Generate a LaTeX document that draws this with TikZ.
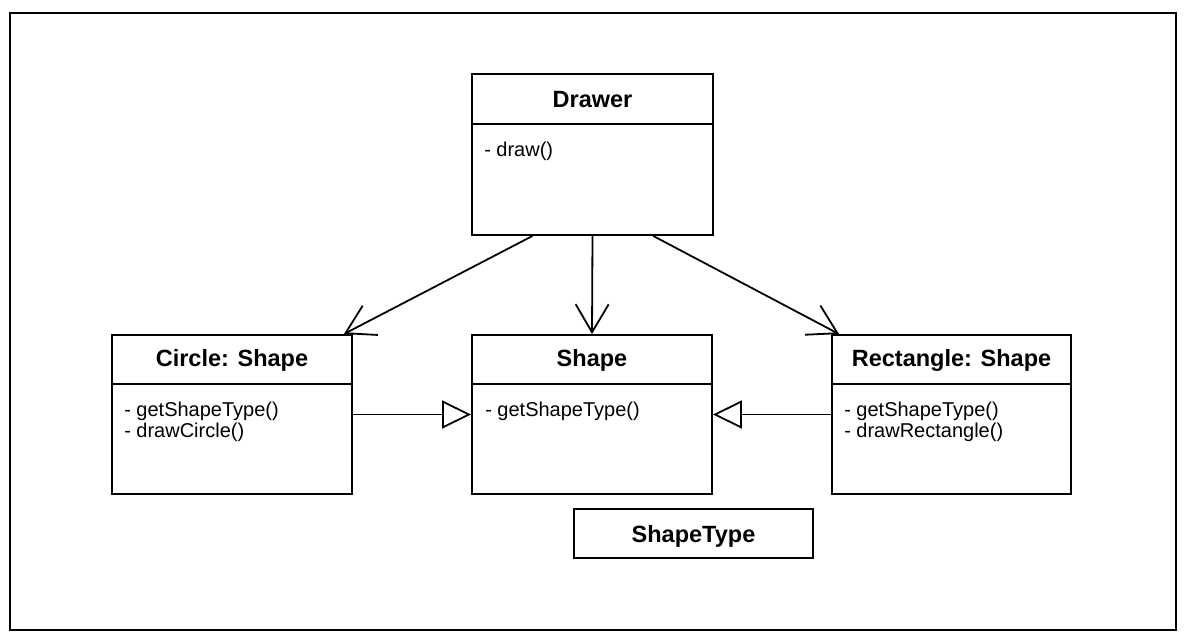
\documentclass[tikz,border=0pt]{standalone}
\usepackage{fontspec}
\setmainfont{Liberation Sans}
\usetikzlibrary{arrows.meta,calc}
\begin{document}
\begin{tikzpicture}[x=1pt,y=-1pt,
  classbox/.style={draw,line width=1.9pt,rectangle,inner sep=0pt,minimum height=159pt,minimum width=240pt},
  titletext/.style={anchor=base,inner sep=0pt,font=\bfseries\fontsize{23.5}{27}\selectfont},
  methodtext/.style={anchor=base west,inner sep=0pt,font=\fontsize{20}{22}\selectfont},
  divider/.style={line width=1.9pt},
  usesarrow/.style={line width=1.8pt,-{Straight Barb[length=28pt,width=33pt,line width=1.8pt]}},
  inherit/.style={line width=1.8pt,-{Triangle[open,length=29pt,width=28pt,line width=1.8pt]}}]
\useasboundingbox (0,0) rectangle (1186,642);
\node[draw,line width=2.4pt,rectangle,inner sep=0pt,minimum width=1166pt,minimum height=617pt] (frame) at (593,321.5) {};

% classes
\node[classbox,minimum width=241pt,minimum height=161pt] (drawer) at (592.5,154.5) {};
\node[classbox] (circle) at (232,414.5) {};
\node[classbox] (shape) at (592,414.5) {};
\node[classbox,minimum width=239pt] (rect) at (951.5,414.5) {};
\node[draw,line width=1.9pt,rectangle,inner sep=0pt,minimum width=239pt,minimum height=49pt] (shapetype) at (693.5,533.5) {};

% dividers
\draw[divider] ([yshift=-51pt]drawer.north west) -- ([yshift=-51pt]drawer.north east);
\draw[divider] ([yshift=-50pt]circle.north west) -- ([yshift=-50pt]circle.north east);
\draw[divider] ([yshift=-50pt]shape.north west) -- ([yshift=-50pt]shape.north east);
\draw[divider] ([yshift=-50pt]rect.north west) -- ([yshift=-50pt]rect.north east);

% titles
\node[titletext] (drawertitle) at ([yshift=-34pt]drawer.north) {Drawer};
\node[titletext] (circletitle) at ([yshift=-32.5pt]circle.north) {Circle: Shape};
\node[titletext] (shapetitle) at ([yshift=-32.5pt]shape.north) {Shape};
\node[titletext] (recttitle) at ([yshift=-32.5pt]rect.north) {Rectangle: Shape};
\node[titletext] (shapetypetitle) at ([yshift=-34pt]shapetype.north) {ShapeType};

% methods
\node[methodtext] (drawerm1) at ([xshift=13pt,yshift=-83pt]drawer.north west) {- draw()};
\node[methodtext] (circlem1) at ([xshift=13pt,yshift=-82pt]circle.north west) {- getShapeType()};
\node[methodtext] (circlem2) at ([xshift=13pt,yshift=-103pt]circle.north west) {- drawCircle()};
\node[methodtext] (shapem1) at ([xshift=14pt,yshift=-82pt]shape.north west) {- getShapeType()};
\node[methodtext] (rectm1) at ([xshift=13pt,yshift=-82pt]rect.north west) {- getShapeType()};
\node[methodtext] (rectm2) at ([xshift=13pt,yshift=-103pt]rect.north west) {- drawRectangle()};

% associations
\draw[usesarrow] ($(drawer.south west)!0.253!(drawer.south east)$) -- ($(circle.north west)!0.9625!(circle.north east)$);
\draw[usesarrow] (drawer.south) -- (shape.north);
\draw[usesarrow] ($(drawer.south west)!0.75!(drawer.south east)$) -- ($(rect.north west)!0.033!(rect.north east)$);

% inheritance
\draw[inherit] (circle.east) -- (shape.west);
\draw[inherit] (rect.west) -- (shape.east);
\end{tikzpicture}
\end{document}
